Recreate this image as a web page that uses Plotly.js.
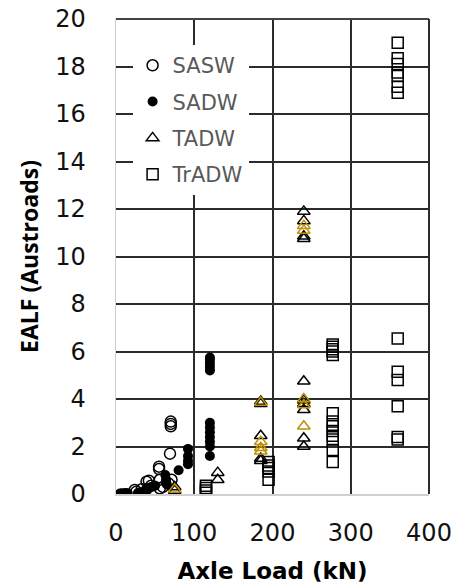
<!DOCTYPE html>
<html>
<head>
<meta charset="utf-8">
<script src="https://cdn.plot.ly/plotly-3.0.1.min.js"></script>
<style>html,body{margin:0;padding:0;background:#fff;}#chart{width:455px;height:586px;}</style>
</head>
<body>
<div id="chart"></div>
<script>
// Axle load (kN) and EALF values
const seriesNames = ["SASW", "SADW", "TADW", "TrADW"];

const saswX = [24, 26, 33, 39, 42, 45, 55, 55, 56, 56, 60, 67, 69, 70, 70, 70, 71];
const saswY = [0.17, 0.1, 0.2, 0.52, 0.56, 0.35, 1.15, 1.05, 0.24, 0.6, 0.3, 0.45, 1.7, 2.85, 2.95, 3.05, 0.6];

const sadwX = [5, 8, 12, 15, 28, 35, 39, 40, 45, 50, 63, 64, 64, 65, 80, 92, 92, 92, 92,
               120, 120, 120, 120, 120, 120, 120, 120, 120, 120, 120, 120];
const sadwY = [0.02, 0.03, 0.04, 0.03, 0.04, 0.1, 0.24, 0.17, 0.3, 0.35, 0.8, 0.6, 0.5, 0.4, 1.0, 1.9, 1.6, 1.4, 1.25,
               1.6, 2.0, 2.2, 2.4, 2.6, 2.8, 3.0, 5.2, 5.35, 5.5, 5.65, 5.75];

const tadwX = [75, 75, 130, 130, 185, 185, 185, 185, 185, 240, 240, 240, 240, 240, 240, 240, 240, 240, 240];
const tadwY = [0.15, 0.3, 0.6, 0.9, 1.4, 1.5, 2.45, 3.8, 3.9, 2.0, 2.35, 3.55, 3.8, 3.95, 4.75, 10.75, 10.85, 11.5, 11.9];

const tadwAltX = [75, 185, 185, 185, 185, 240, 240, 240, 240, 240];
const tadwAltY = [0.2, 3.85, 2.2, 1.95, 1.8, 3.75, 2.85, 4.0, 11.3, 11.1];

const tradwX = [115, 115, 115, 115, 195, 195, 195, 195, 195,
                277, 277, 277, 277, 277, 277, 277, 277, 277, 277, 277, 277, 277,
                360, 360, 360, 360, 360, 360, 360, 360, 360, 360, 360, 360, 360];
const tradwY = [0.05, 0.15, 0.25, 0.35, 0.6, 0.95, 1.1, 1.2, 1.35,
                1.35, 1.85, 2.3, 2.45, 2.65, 2.85, 3.05, 3.4, 5.85, 6.0, 6.1, 6.2, 6.3,
                2.3, 2.4, 3.7, 4.8, 5.15, 6.55, 16.9, 17.15, 17.6, 17.75, 18.1, 18.35, 19.0];

const xTicks = [0, 100, 200, 300, 400];
const yTicks = [0, 2, 4, 6, 8, 10, 12, 14, 16, 18, 20];

const black = "#000000";
const gold = "#BF9000";
const gridCol = "#2b2b2b";

const traces = [
  {x: saswX, y: saswY, name: seriesNames[0], type: "scatter", mode: "markers", legendgroup: "a",
   marker: {symbol: "circle-open", size: 11, color: black, line: {width: 1.5, color: black}}},
  {x: sadwX, y: sadwY, name: seriesNames[1], type: "scatter", mode: "markers", legendgroup: "b",
   marker: {symbol: "circle", size: 10, color: black}},
  {x: tadwX, y: tadwY, name: seriesNames[2], type: "scatter", mode: "markers", legendgroup: "c",
   marker: {symbol: "triangle-up-open", size: 11, color: black, line: {width: 1.5, color: black}}},
  {x: tadwAltX, y: tadwAltY, name: seriesNames[2], type: "scatter", mode: "markers", legendgroup: "c", showlegend: false,
   marker: {symbol: "triangle-up-open", size: 11, color: gold, line: {width: 1.5, color: gold}}},
  {x: tradwX, y: tradwY, name: seriesNames[3], type: "scatter", mode: "markers", legendgroup: "d",
   marker: {symbol: "square-open", size: 11, color: black, line: {width: 1.5, color: black}}}
];

const layout = {
  width: 455, height: 586,
  margin: {l: 116, r: 26, t: 19, b: 92},
  paper_bgcolor: "#ffffff", plot_bgcolor: "#ffffff",
  font: {family: "DejaVu Sans, sans-serif", color: "#000000"},
  showlegend: true,
  legend: {
    x: 0.053, y: 0.945, xanchor: "left", yanchor: "top",
    bgcolor: "#ffffff", borderwidth: 0,
    font: {size: 21, color: "#595959", family: "DejaVu Sans, sans-serif"},
    traceorder: "grouped", tracegroupgap: 6
  },
  xaxis: {
    range: [0, 400], tickvals: xTicks, ticktext: xTicks.map(String),
    showgrid: true, gridcolor: gridCol, gridwidth: 2,
    zeroline: false, showline: true, linecolor: "#d0d0d0", linewidth: 1.5,
    ticks: "", ticklabelstandoff: 17,
    tickfont: {size: 24, color: "#111111", family: "DejaVu Sans, sans-serif"},
    title: {text: "<b>Axle Load (kN)</b>", font: {size: 23, color: "#000000", family: "DejaVu Sans, sans-serif"}, standoff: 16},
    fixedrange: true
  },
  yaxis: {
    range: [0, 20], tickvals: yTicks, ticktext: yTicks.map(String),
    showgrid: true, gridcolor: gridCol, gridwidth: 2,
    zeroline: false, showline: true, linecolor: "#d0d0d0", linewidth: 1.5,
    ticks: "", ticklabelstandoff: 24,
    tickfont: {size: 24, color: "#111111", family: "DejaVu Sans, sans-serif"},
    title: {text: "<b>EALF (Austroads)</b>", font: {size: 23, color: "#000000", family: "Open Sans, sans-serif"}, standoff: 10},
    fixedrange: true
  },
  shapes: [
    {type: "line", xref: "paper", yref: "paper", x0: 0, x1: 1, y0: 1, y1: 1, line: {color: "#444444", width: 2}},
    {type: "line", xref: "paper", yref: "paper", x0: 1, x1: 1, y0: 0, y1: 1, line: {color: gridCol, width: 2}}
  ]
};

Plotly.newPlot("chart", traces, layout, {displayModeBar: false, staticPlot: true});
</script>
</body>
</html>
